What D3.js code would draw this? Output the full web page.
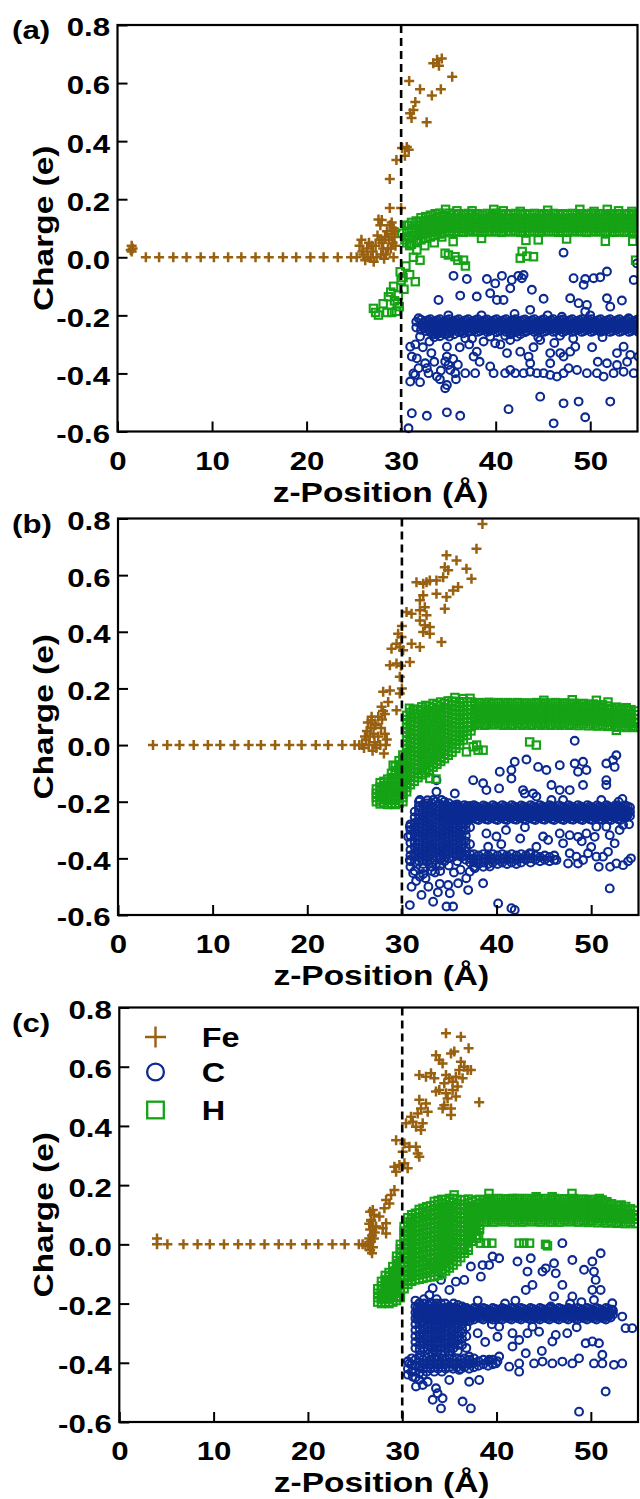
<!DOCTYPE html>
<html><head><meta charset="utf-8">
<script src="https://cdn.jsdelivr.net/npm/d3@7/dist/d3.min.js"></script>
<style>html,body{margin:0;padding:0;background:#fff}svg{display:block}</style>
</head><body>
<svg id="fig" width="640" height="1499"></svg>
<script>
// ---------- labels / ticks ----------
const xTicks=[0,10,20,30,40,50];
const xTickLabels=["0","10","20","30","40","50"];
const yTicks=[-0.6,-0.4,-0.2,0,0.2,0.4,0.6,0.8];
const yTickLabels=["-0.6","-0.4","-0.2","0.0","0.2","0.4","0.6","0.8"];
const panelNames=["(a)","(b)","(c)"];
const seriesNames=["Fe","C","H"];
const xTitle="z-Position (Å)";
const yTitle="Charge (e)";
const interfaceZ=30;

// ---------- panel (a) ----------
const feA=[[1.4,.025],[1.5,.04],[1.6,.03],[1.5,.02],[3.0,0],[4.4,0],[5.9,0],[7.3,0],[8.8,0],[10.2,0],[11.7,0],[13.1,0],[14.6,0],[16.0,0],[17.5,0],[18.9,0],[20.4,0],[21.8,0],[23.3,0],[24.7,0],[25.3,0],[25.6,.04],[25.8,.06],[25.9,.02],[26.0,.01],[26.2,-.01],[26.4,.03],[26.5,0],[26.6,.05],[26.8,0],[26.9,.04],[27.0,.02],[27.1,-.015],[27.3,.04],[27.4,0],[27.5,.075],[27.6,.13],[27.7,.06],[27.8,.11],[27.9,.01],[27.95,.128],[28.0,.05],[28.1,.03],[28.2,-.005],[28.3,.07],[28.4,.01],[28.5,.09],[28.6,.03],[28.7,.06],[28.8,.11],[28.9,.03],[29.0,.08],[29.0,.12],[29.1,.05],[29.2,.1],[29.2,0],[29.3,.07],[29.4,.04],[29.4,.09],[28.8,.17],[30.0,.17],[28.8,.27],[29.5,.335],[30.1,.376],[30.4,.35],[30.6,.38],[30.8,.37],[30.85,.607],[30.95,.496],[31.1,.48],[31.3,.507],[31.5,.535],[32.0,.579],[32.7,.465],[33.25,.557],[34.2,.579],[35.4,.622],[33.4,.668],[33.8,.68],[34.0,.66],[34.3,.685]];
const hA=[[27.07,-.176],[27.3,-.19],[27.6,-.199],[28.1,-.16],[28.5,-.19],[28.66,-.136],[29.0,-.19],[29.3,-.15],[29.5,-.186],[29.2,-.1],[29.7,-.13],[29.9,-.05],[30.0,-.08],[30.2,-.07],[30.9,-.06],[31.5,-.084],[30.5,-.03],[29.6,-.16],[28.9,-.12],[30.3,-.11],[29.8,-.17],[30.07,.083],[30.4,.06],[30.8,.11],[30.9,.04],[31.66,.025],[32.0,-.01],[31.3,0],[34.3,.07],[35.5,.054],[34.65,.014],[35.0,.008],[35.7,.002],[36.0,-.01],[36.6,-.01],[36.8,-.03],[42.6,-.003],[42.8,.02],[43.3,.004],[44.0,.002],[54.8,-.01],[34.7,.165],[35.9,.16],[37.5,.16],[39.8,.165],[40.8,.16],[42.6,.158],[45.5,.162],[48.9,.165],[50.4,.158],[51.8,.165],[53.0,.16],[54.4,.158],[44.5,.06],[51.6,.055],[54.5,.055],[43.2,.058],[38.5,.065],[47.5,.063],[33.5,.05],[32.5,.04]];
const hBandA=[[30.6,.05,.07,.09,.11],[31.1,.045,.065,.085,.1,.12],[31.6,.055,.075,.09,.11,.125],[32.1,.06,.078,.093,.108,.122,.136],[32.6,.066,.082,.097,.112,.127,.14],[33.1,.07,.086,.1,.116,.13,.145],[33.6,.075,.09,.105,.12,.135,.15],[34.1,.08,.095,.11,.125,.14,.152],[34.6,.085,.1,.115,.13,.145],[35.1,.09,.106,.121,.136,.152],[35.6,.086,.1,.116,.131,.146],[36.1,.09,.105,.12,.135,.15],[36.6,.086,.1,.115,.13,.146],[37.1,.092,.106,.121,.137,.151],[37.6,.087,.101,.116,.132,.147],[38.1,.091,.105,.12,.136,.15],[38.6,.086,.1,.115,.13,.145],[39.1,.09,.105,.12,.135,.151],[39.6,.087,.101,.116,.131,.147],[40.1,.091,.106,.121,.136,.152],[40.6,.086,.1,.115,.13,.146],[41.1,.09,.105,.12,.135,.15],[41.6,.087,.102,.117,.132,.147],[42.1,.091,.106,.12,.136,.151],[42.6,.086,.1,.115,.13,.146],[43.1,.09,.105,.12,.135,.15],[43.6,.087,.101,.116,.131,.147],[44.1,.09,.106,.121,.136,.151],[44.6,.086,.1,.115,.13,.145],[45.1,.091,.105,.12,.135,.15],[45.6,.087,.101,.116,.131,.146],[46.1,.09,.105,.12,.136,.151],[46.6,.086,.1,.115,.13,.146],[47.1,.09,.105,.12,.135,.15],[47.6,.086,.101,.116,.131,.147],[48.1,.091,.106,.121,.136,.151],[48.6,.087,.1,.115,.13,.146],[49.1,.09,.105,.12,.135,.15],[49.6,.086,.101,.116,.131,.146],[50.1,.09,.106,.121,.136,.151],[50.6,.087,.1,.115,.13,.145],[51.1,.091,.105,.12,.135,.15],[51.6,.086,.101,.116,.131,.146],[52.1,.09,.105,.12,.136,.15],[52.6,.086,.1,.115,.13,.145],[53.1,.09,.105,.12,.135,.15],[53.6,.086,.101,.116,.131,.146],[54.1,.09,.105,.12,.135,.15],[54.6,.086,.1,.115,.13,.145],[55.1,.09,.105,.12,.135,.15]];
const cA=[[47.18,.016],[35.54,-.064],[36.95,-.075],[39.07,-.075],[40.66,-.064],[39.95,-.09],[41.7,-.078],[42.4,-.064],[42.95,-.061],[42.77,-.072],[41.54,-.107],[43.83,-.112],[48.24,-.072],[49.47,-.075],[49.3,-.095],[50.36,-.072],[51.06,-.069],[51.77,-.049],[54.94,-.021],[54.6,-.078],[33.95,-.147],[36.25,-.132],[38.0,-.135],[39.42,-.124],[40.13,-.147],[40.83,-.147],[45.07,-.143],[47.88,-.141],[48.77,-.158],[49.65,-.164],[51.77,-.141],[53.35,-.149],[43.65,-.181],[49.47,-.187],[52.12,-.17],[54.06,-.21],[31.84,-.21],[35,-.2],[38.5,-.2],[45.5,-.2],[50.0,-.2],[42.0,-.195],[47.0,-.205],[33.5,-.275],[37.5,-.28],[44.5,-.275],[48.2,-.28],[51.3,-.275],[46.8,-.27],[41.0,-.27],[30.96,-.308],[32.0,-.273],[31.13,-.342],[31.66,-.348],[32.54,-.365],[32.72,-.382],[32.9,-.399],[30.96,-.428],[31.48,-.405],[31.84,-.382],[33.78,-.411],[34.66,-.359],[34.84,-.342],[35.0,-.371],[35.2,-.388],[35.72,-.399],[34.84,-.308],[34.66,-.451],[34.84,-.44],[36.78,-.279],[36.78,-.399],[37.83,-.399],[37.66,-.342],[38.0,-.325],[38.72,-.29],[39.42,-.376],[39.78,-.399],[39.95,-.296],[41.0,-.399],[41.54,-.388],[42.07,-.399],[42.95,-.399],[43.65,-.394],[44.36,-.399],[45.07,-.399],[45.77,-.405],[46.48,-.411],[47.18,-.399],[47.71,-.382],[48.6,-.388],[49.65,-.399],[50.71,-.399],[51.41,-.411],[52.47,-.399],[53.53,-.394],[54.6,-.399],[55.1,-.342],[42.6,-.325],[43.48,-.342],[43.65,-.365],[44.71,-.285],[45.77,-.33],[46.83,-.33],[47.88,-.325],[48.42,-.308],[47.18,-.342],[45.77,-.365],[51.77,-.365],[52.83,-.33],[53.53,-.308],[54.24,-.336],[41.54,-.285],[39.42,-.273],[42.25,-.273],[52.83,-.371],[31.5,-.3],[32.3,-.31],[33.2,-.33],[33.5,-.36],[34.2,-.39],[35.5,-.35],[36.2,-.31],[36.0,-.37],[35.8,-.42],[34.1,-.42],[33.0,-.29],[37.2,-.3],[38.3,-.36],[40.5,-.3],[41.2,-.33],[44.0,-.31],[46.2,-.295],[50.2,-.31],[50.8,-.36],[53.9,-.36],[31.3,-.4],[32.0,-.43],[44.71,-.48],[41.36,-.523],[31.13,-.537],[32.72,-.546],[34.84,-.534],[36.25,-.546],[47.18,-.503],[48.77,-.497],[52.12,-.497],[46.13,-.572],[49.47,-.551],[30.78,-.589]];
const cBandA=[[31.6,-.222,-.242],[32.1,-.215,-.232,-.25],[32.6,-.219,-.236,-.254],[33.1,-.213,-.228,-.243,-.258],[33.6,-.22,-.235,-.25,-.265],[34.1,-.213,-.228,-.243,-.258,-.272],[34.6,-.22,-.235,-.25,-.265],[35.1,-.213,-.228,-.243,-.258,-.273],[35.6,-.22,-.235,-.25,-.265],[36.1,-.213,-.228,-.243,-.258],[36.6,-.22,-.235,-.25,-.262],[37.1,-.213,-.228,-.243,-.257],[37.6,-.22,-.235,-.25],[38.1,-.213,-.228,-.243,-.257],[38.6,-.22,-.235,-.25],[39.1,-.214,-.228,-.243,-.257],[39.6,-.221,-.235,-.25],[40.1,-.213,-.228,-.243,-.258],[40.6,-.22,-.236,-.251],[41.1,-.213,-.228,-.243,-.257],[41.6,-.22,-.235,-.25,-.265],[42.1,-.213,-.228,-.243,-.258],[42.6,-.22,-.235,-.25,-.265],[43.1,-.214,-.229,-.244,-.258],[43.6,-.22,-.235,-.25],[44.1,-.213,-.228,-.243,-.257],[44.6,-.22,-.235,-.25],[45.1,-.213,-.228,-.243,-.257],[45.6,-.221,-.235,-.25],[46.1,-.213,-.228,-.243,-.257],[46.6,-.22,-.235,-.25],[47.1,-.214,-.228,-.243,-.258],[47.6,-.22,-.235,-.25],[48.1,-.213,-.228,-.243,-.257],[48.6,-.22,-.235,-.25],[49.1,-.213,-.228,-.243,-.257],[49.6,-.22,-.235,-.25],[50.1,-.213,-.228,-.243,-.257],[50.6,-.221,-.236,-.25],[51.1,-.213,-.228,-.243,-.257],[51.6,-.22,-.235,-.25],[52.1,-.213,-.228,-.243,-.257],[52.6,-.22,-.235,-.25],[53.1,-.213,-.228,-.243,-.257],[53.6,-.22,-.235,-.25],[54.1,-.213,-.228,-.243,-.257],[54.6,-.22,-.235,-.25],[55.1,-.213,-.228,-.243,-.257]];
const cBandA2=[[32.35,-.224,-.242],[32.85,-.217,-.232,-.248],[33.35,-.224,-.24,-.256],[33.85,-.217,-.232,-.248,-.264],[34.35,-.224,-.24,-.256],[34.85,-.217,-.232,-.248,-.264],[35.35,-.224,-.24,-.256],[35.85,-.217,-.232,-.248],[36.35,-.224,-.24,-.255],[36.85,-.217,-.232,-.248],[37.35,-.224,-.24,-.254],[37.85,-.217,-.232,-.248],[38.35,-.224,-.24,-.254],[38.85,-.217,-.232,-.248],[39.35,-.224,-.24,-.254],[39.85,-.217,-.232,-.248],[40.35,-.224,-.24,-.254],[40.85,-.217,-.232,-.248],[41.35,-.224,-.24,-.256],[41.85,-.217,-.232,-.248],[42.35,-.224,-.24,-.256],[42.85,-.217,-.232,-.248],[43.35,-.224,-.24,-.254],[43.85,-.217,-.232,-.248],[44.35,-.224,-.24,-.254],[44.85,-.217,-.232,-.248],[45.35,-.224,-.24,-.254],[45.85,-.217,-.232,-.248],[46.35,-.224,-.24,-.254],[46.85,-.217,-.232,-.248],[47.35,-.224,-.24,-.254],[47.85,-.217,-.232,-.248],[48.35,-.224,-.24,-.254],[48.85,-.217,-.232,-.248],[49.35,-.224,-.24,-.254],[49.85,-.217,-.232,-.248],[50.35,-.224,-.24,-.254],[50.85,-.217,-.232,-.248],[51.35,-.224,-.24,-.254],[51.85,-.217,-.232,-.248],[52.35,-.224,-.24,-.254],[52.85,-.217,-.232,-.248],[53.35,-.224,-.24,-.254],[53.85,-.217,-.232,-.248],[54.35,-.224,-.24,-.254],[54.85,-.217,-.232,-.248]];

// ---------- panel (b) ----------
const feB=[[3.7,0],[5.2,0],[6.5,0],[8.0,0],[9.5,0],[10.8,0],[12.3,0],[13.8,0],[15.1,0],[16.6,0],[18.1,0],[19.4,0],[20.9,0],[22.2,0],[23.7,0],[25.0,0],[25.5,0],[25.8,0],[26.0,-.01],[26.1,.03],[26.2,.02],[26.3,.05],[26.4,.08],[26.5,0],[26.6,.03],[26.7,.06],[26.8,.1],[26.79,.088],[26.9,-.02],[27.0,.04],[27.1,.01],[27.14,.076],[27.2,.07],[27.3,-.01],[27.5,.03],[27.5,.1],[27.7,0],[27.8,.06],[27.9,.09],[28.0,.12],[28.1,-.03],[28.2,.04],[28.2,.11],[28.3,0],[28.4,.02],[38.51,.781],[37.88,.693],[34.71,.67],[35.77,.652],[36.82,.623],[37.35,.587],[34.53,.628],[34.89,.617],[34.36,.593],[33.65,.581],[32.95,.581],[32.6,.575],[31.54,.575],[32.25,.57],[35.94,.558],[35.41,.546],[34.71,.523],[33.65,.534],[34.53,.481],[32.25,.529],[31.9,.511],[32.42,.487],[31.9,.476],[30.49,.47],[31.02,.464],[32.6,.458],[31.9,.44],[32.42,.423],[32.95,.417],[32.25,.399],[32.95,.393],[34.18,.364],[31.02,.358],[31.9,.346],[29.96,.382],[30.13,.335],[29.43,.358],[28.9,.34],[30.84,.293],[28.73,.282],[29.43,.288],[29.78,.241],[28.02,.188],[28.73,.193],[29.78,.182],[28.55,.152],[27.85,.135],[29.43,.123],[29.78,.346],[29.6,.393],[30.0,.42],[30.0,.2],[29.9,.28]];
const hB=[[43.5,.011],[44.2,0],[38.05,-.018],[38.58,-.018],[36.82,-.024],[37.53,-.006],[37.9,0],[29.08,-.071],[32.95,-.118],[33.6,-.12],[52.66,.052],[54.4,.064],[31.19,.123],[50.55,.158],[51.78,.152],[36.47,.164],[35.6,.168],[37.2,.165],[31.0,.1],[30.8,.13],[48.0,.16],[45.0,.158]];
const hBandB=[[27.3,-.2,-.185,-.17,-.155],[27.7,-.208,-.193,-.178,-.163,-.148,-.133],[28.1,-.203,-.188,-.173,-.158,-.143,-.128],[28.5,-.21,-.195,-.18,-.165,-.15,-.135,-.12],[28.9,-.205,-.19,-.175,-.16,-.145,-.13,-.115,-.1],[29.3,-.21,-.195,-.18,-.165,-.15,-.135,-.12,-.105,-.09,-.075],[29.7,-.205,-.19,-.175,-.16,-.145,-.13,-.115,-.1,-.085,-.07,-.055],[30.1,-.2,-.185,-.17,-.155,-.14,-.125,-.11,-.095,-.08,-.065,-.05,-.035],[30.5,-.165,-.15,-.135,-.12,-.105,-.09,-.075,-.06,-.045,-.03,-.015,0,.015,.03,.045,.06,.075,.09,.105],[30.9,-.14,-.125,-.11,-.095,-.08,-.065,-.05,-.035,-.02,-.005,.01,.025,.04,.055,.07,.085,.1,.115],[31.3,-.128,-.113,-.098,-.083,-.068,-.053,-.038,-.023,-.008,.007,.022,.037,.052,.067,.082,.097,.112,.127],[31.7,-.115,-.1,-.085,-.07,-.055,-.04,-.025,-.01,.005,.02,.035,.05,.065,.08,.095,.11,.125],[32.1,-.105,-.09,-.075,-.06,-.045,-.03,-.015,0,.015,.03,.045,.06,.075,.09,.105,.12,.135],[32.5,-.098,-.083,-.068,-.053,-.038,-.023,-.008,.007,.022,.037,.052,.067,.082,.097,.112,.127,.14],[32.9,-.088,-.073,-.058,-.043,-.028,-.013,.002,.017,.032,.047,.062,.077,.092,.107,.122,.137],[33.3,-.078,-.063,-.048,-.033,-.018,-.003,.012,.027,.042,.057,.072,.087,.102,.117,.132,.147],[33.7,-.068,-.053,-.038,-.023,-.008,.007,.022,.037,.052,.067,.082,.097,.112,.127,.142],[34.1,-.058,-.043,-.028,-.013,.002,.017,.032,.047,.062,.077,.092,.107,.122,.137,.152],[34.5,-.048,-.033,-.018,-.003,.012,.027,.042,.057,.072,.087,.102,.117,.132,.147],[34.9,-.036,-.021,-.006,.009,.024,.039,.054,.069,.084,.099,.114,.129,.144,.156],[35.3,-.025,-.01,.005,.02,.035,.05,.065,.08,.095,.11,.125,.14,.155],[35.7,-.012,.003,.018,.033,.048,.063,.078,.093,.108,.123,.138,.153],[36.1,0,.015,.03,.045,.06,.075,.09,.105,.12,.135,.15],[36.5,.018,.033,.048,.063,.078,.093,.108,.123,.138,.153],[36.9,.035,.05,.065,.08,.095,.11,.125,.14,.152],[37.3,.05,.065,.08,.095,.11,.125,.14,.152],[37.7,.07,.085,.1,.115,.13,.145],[38.2,.077,.092,.107,.122,.137,.15],[38.7,.07,.085,.1,.115,.13,.145],[39.2,.077,.092,.107,.122,.137,.151],[39.7,.071,.085,.1,.115,.13,.146],[40.2,.077,.092,.107,.122,.137,.15],[40.7,.07,.085,.1,.115,.13,.145],[41.2,.076,.092,.107,.122,.137,.15],[41.7,.07,.085,.1,.115,.13,.145],[42.2,.077,.092,.107,.122,.137,.15],[42.7,.07,.086,.1,.115,.13,.145],[43.2,.077,.092,.107,.122,.137,.149],[43.7,.07,.085,.1,.115,.13,.145],[44.2,.077,.092,.107,.122,.137,.15],[44.7,.07,.085,.1,.115,.13,.145],[45.2,.077,.092,.107,.122,.137,.149],[45.7,.07,.085,.1,.115,.13,.145],[46.2,.077,.092,.107,.122,.137,.15],[46.7,.07,.085,.1,.115,.13,.145],[47.2,.077,.092,.107,.122,.137,.149],[47.7,.07,.085,.1,.115,.13,.145],[48.2,.076,.091,.106,.121,.136,.148],[48.7,.069,.084,.099,.114,.129,.144],[49.2,.075,.09,.105,.12,.135,.147],[49.7,.068,.083,.098,.113,.128,.142],[50.2,.074,.089,.104,.119,.134,.145],[50.7,.067,.082,.097,.112,.127,.14],[51.2,.072,.087,.102,.117,.132,.142],[51.7,.066,.081,.096,.111,.126,.138],[52.2,.07,.085,.1,.115,.13],[52.7,.063,.078,.093,.108,.123,.134],[53.2,.068,.083,.098,.113,.128],[53.7,.062,.077,.092,.107,.122,.132],[54.2,.067,.082,.097,.112,.125],[54.7,.062,.077,.092,.107,.12]];
const cB=[[48.26,.015],[41.92,-.059],[43.16,-.051],[40.34,-.094],[41.57,-.088],[41.57,-.118],[37.53,-.124],[38.58,-.135],[38.93,-.159],[40.27,-.153],[35.59,-.171],[33.65,-.124],[33.65,-.165],[34.18,-.194],[33.3,-.194],[31.9,-.194],[32.6,-.206],[44.39,-.077],[45.27,-.088],[46.68,-.071],[48.26,-.065],[49.14,-.059],[48.61,-.094],[49.5,-.088],[51.6,-.065],[52.31,-.053],[52.66,-.036],[52.48,-.077],[42.98,-.171],[43.86,-.171],[44.21,-.182],[45.8,-.141],[46.68,-.159],[45.8,-.194],[47.73,-.159],[49.14,-.141],[51.6,-.124],[51.6,-.141],[51.07,-.194],[47.03,-.194],[42.8,-.159],[30.84,-.288],[30.66,-.324],[30.84,-.406],[31.19,-.453],[31.02,-.5],[30.84,-.565],[31.9,-.465],[32.07,-.529],[33.3,-.553],[34.89,-.494],[35.06,-.523],[34.71,-.57],[35.41,-.57],[35.94,-.488],[37.0,-.512],[38.58,-.488],[40.17,-.559],[41.57,-.576],[41.92,-.582],[37.17,-.447],[37.7,-.435],[38.93,-.312],[39.11,-.359],[39.99,-.323],[39.29,-.429],[47.03,-.347],[47.73,-.318],[48.61,-.324],[49.5,-.312],[50.37,-.324],[50.55,-.288],[51.6,-.288],[51.96,-.318],[47.73,-.382],[48.44,-.394],[49.14,-.406],[48.61,-.418],[49.67,-.382],[50.55,-.394],[51.25,-.394],[51.78,-.377],[52.66,-.418],[53.37,-.424],[51.96,-.506],[52.48,-.347],[53.37,-.282],[46.68,-.312],[45.45,-.335],[44.92,-.323],[44.21,-.359],[43.51,-.382],[46.33,-.406],[47.56,-.418],[32.5,-.47],[33.5,-.45],[34.0,-.49],[32.8,-.5],[35.5,-.45],[36.2,-.44],[36.8,-.47],[33.8,-.52],[31.5,-.48],[41.0,-.3],[42.5,-.33],[43.0,-.29],[40.5,-.35],[53.7,-.25],[54.0,-.28],[53.0,-.3],[50.0,-.36],[49.0,-.34],[52.0,-.43],[50.8,-.43],[54.2,-.4],[53.9,-.41],[52.9,-.2],[53.3,-.19]];
const cBandB=[[34.6,-.212,-.227,-.242,-.257],[35.1,-.22,-.235,-.25,-.265],[35.6,-.212,-.227,-.242,-.257],[36.1,-.22,-.235,-.25,-.265],[36.6,-.212,-.227,-.242,-.257],[37.1,-.22,-.235,-.25,-.265],[37.6,-.212,-.227,-.242,-.257],[38.1,-.22,-.235,-.25,-.265],[38.6,-.213,-.227,-.242,-.257],[39.1,-.22,-.235,-.25,-.264],[39.6,-.212,-.227,-.242,-.257],[40.1,-.22,-.235,-.25,-.265],[40.6,-.212,-.228,-.243,-.257],[41.1,-.22,-.235,-.25,-.265],[41.6,-.212,-.227,-.242,-.257],[42.1,-.22,-.235,-.25,-.264],[42.6,-.213,-.227,-.242,-.257],[43.1,-.22,-.235,-.25,-.265],[43.6,-.212,-.227,-.242,-.257],[44.1,-.22,-.235,-.25,-.265],[44.6,-.212,-.227,-.242,-.256],[45.1,-.22,-.235,-.25,-.264],[45.6,-.212,-.227,-.242,-.257],[46.1,-.22,-.235,-.25,-.265],[46.6,-.213,-.228,-.242,-.257],[47.1,-.22,-.235,-.25,-.265],[47.6,-.212,-.227,-.242,-.257],[48.1,-.22,-.235,-.25,-.264],[48.6,-.212,-.227,-.242,-.257],[49.1,-.22,-.235,-.25,-.265],[49.6,-.212,-.227,-.242,-.257],[50.1,-.22,-.235,-.25,-.265],[50.6,-.213,-.227,-.242,-.257],[51.1,-.22,-.235,-.25,-.264],[51.6,-.212,-.227,-.242,-.257],[52.1,-.22,-.235,-.25,-.265],[52.6,-.212,-.227,-.242,-.257],[53.1,-.22,-.235,-.25,-.265],[53.6,-.213,-.228,-.243,-.257],[54.1,-.22,-.235,-.25]];
const cBandB2=[[34.85,-.217,-.232,-.248,-.262],[35.35,-.224,-.24,-.256],[35.85,-.217,-.232,-.248,-.262],[36.35,-.224,-.24,-.256],[36.85,-.217,-.232,-.248,-.262],[37.35,-.224,-.24,-.256],[37.85,-.217,-.232,-.248,-.262],[38.35,-.224,-.24,-.256],[38.85,-.217,-.232,-.248,-.262],[39.35,-.224,-.24,-.256],[39.85,-.217,-.232,-.248,-.262],[40.35,-.224,-.24,-.256],[40.85,-.217,-.232,-.248,-.262],[41.35,-.224,-.24,-.256],[41.85,-.217,-.232,-.248,-.262],[42.35,-.224,-.24,-.256],[42.85,-.217,-.232,-.248,-.262],[43.35,-.224,-.24,-.256],[43.85,-.217,-.232,-.248,-.262],[44.35,-.224,-.24,-.256],[44.85,-.217,-.232,-.248,-.262],[45.35,-.224,-.24,-.256],[45.85,-.217,-.232,-.248,-.262],[46.35,-.224,-.24,-.256],[46.85,-.217,-.232,-.248,-.262],[47.35,-.224,-.24,-.256],[47.85,-.217,-.232,-.248,-.262],[48.35,-.224,-.24,-.256],[48.85,-.217,-.232,-.248,-.262],[49.35,-.224,-.24,-.256],[49.85,-.217,-.232,-.248,-.262],[50.35,-.224,-.24,-.256],[50.85,-.217,-.232,-.248,-.262],[51.35,-.224,-.24,-.256],[51.85,-.217,-.232,-.248,-.262],[52.35,-.224,-.24,-.256],[52.85,-.217,-.232,-.248,-.262],[53.35,-.224,-.24,-.256],[53.85,-.217,-.232,-.248]];
const cMassB=[[30.9,-.28,-.3,-.32,-.345,-.37,-.39,-.41,-.43],[31.35,-.235,-.255,-.275,-.29,-.31,-.325,-.345,-.36,-.38,-.395,-.415,-.445],[31.8,-.2,-.215,-.23,-.245,-.26,-.275,-.29,-.305,-.32,-.335,-.35,-.365,-.38,-.395,-.41],[32.25,-.21,-.225,-.24,-.255,-.27,-.285,-.3,-.315,-.33,-.345,-.36,-.375,-.39,-.405,-.42,-.435,-.455],[32.7,-.195,-.215,-.23,-.245,-.26,-.275,-.29,-.305,-.32,-.335,-.35,-.365,-.38,-.395,-.41],[33.15,-.205,-.22,-.235,-.25,-.265,-.28,-.295,-.31,-.325,-.34,-.355,-.37,-.385,-.4,-.415,-.43,-.445],[33.6,-.2,-.215,-.23,-.245,-.26,-.275,-.29,-.305,-.32,-.335,-.35,-.365,-.38,-.395,-.42],[34.05,-.21,-.225,-.24,-.255,-.27,-.285,-.3,-.315,-.33,-.345,-.36,-.375,-.39,-.405,-.425,-.445],[34.5,-.2,-.215,-.23,-.245,-.26,-.275,-.29,-.305,-.32,-.335,-.35,-.365,-.38,-.395,-.41],[34.95,-.205,-.22,-.235,-.25,-.265,-.28,-.295,-.31,-.325,-.34,-.355,-.37,-.385,-.4,-.425],[35.4,-.215,-.23,-.245,-.26,-.275,-.29,-.305,-.32,-.335,-.35,-.365,-.38,-.395],[35.85,-.21,-.225,-.24,-.255,-.27,-.285,-.3,-.315,-.33,-.345,-.36,-.375,-.39,-.41],[36.3,-.23,-.245,-.26,-.275,-.29,-.305,-.32,-.335,-.35,-.365,-.38,-.395],[36.75,-.22,-.235,-.25,-.265,-.28,-.3,-.32,-.34,-.36,-.375,-.39,-.405],[37.2,-.215,-.23,-.245,-.26,-.29,-.35,-.385,-.4,-.415]];
const cLowB=[[37.6,-.385,-.4,-.415,-.43],[38.1,-.39,-.405,-.42],[38.6,-.385,-.4,-.415,-.43],[39.1,-.39,-.405,-.42],[39.6,-.385,-.4,-.415],[40.1,-.39,-.405,-.42],[40.6,-.385,-.4,-.415],[41.1,-.39,-.405,-.42],[41.6,-.385,-.4,-.415],[42.1,-.39,-.405,-.42],[42.6,-.385,-.4,-.415],[43.1,-.39,-.405],[43.6,-.385,-.4,-.415],[44.1,-.39,-.405],[44.6,-.395,-.41],[45.1,-.39,-.405],[45.6,-.395,-.41],[46.1,-.39,-.405]];

// ---------- panel (c) ----------
const feC=[[4.0,.02],[4.0,0],[5.1,0],[6.8,0],[8.3,0],[9.6,0],[11.1,0],[12.6,0],[13.9,0],[15.4,0],[16.9,0],[18.2,0],[19.8,0],[21.1,0],[22.6,0],[23.9,0],[25.4,0],[25.8,0],[26.1,-.005],[26.4,0],[26.5,.02],[26.5,.07],[26.6,-.02],[26.6,.05],[26.6,.11],[26.7,.01],[26.7,.08],[26.8,-.03],[26.8,.03],[26.9,.06],[26.9,-.01],[27.0,.1],[27.0,.02],[27.1,.04],[34.64,.713],[36.22,.701],[37.04,.662],[33.58,.639],[33.93,.623],[34.28,.611],[35.17,.645],[35.52,.651],[36.22,.617],[36.58,.6],[36.05,.589],[36.93,.589],[37.28,.589],[31.81,.572],[32.52,.566],[33.05,.578],[33.4,.561],[34.64,.572],[34.99,.561],[35.34,.549],[35.69,.566],[36.4,.561],[35.87,.533],[34.46,.544],[33.93,.521],[33.58,.516],[34.64,.51],[35.34,.521],[34.81,.493],[35.69,.499],[34.46,.47],[35.17,.459],[35.17,.437],[34.28,.459],[38.16,.48],[31.81,.488],[32.52,.476],[31.99,.459],[32.7,.448],[31.64,.442],[30.93,.431],[31.11,.414],[30.4,.409],[32.17,.409],[31.46,.397],[31.99,.386],[29.35,.352],[30.23,.341],[30.76,.33],[31.46,.33],[30.05,.313],[31.64,.307],[31.81,.296],[29.17,.262],[29.7,.268],[30.23,.274],[30.58,.257],[29.35,.245],[29.17,.184],[28.82,.167],[28.29,.15],[28.64,.138],[28.11,.122],[26.88,.116],[27.58,.094],[26.7,.082],[28.29,.071],[27.23,.06],[27.93,.054],[28.29,.037]];
const hC=[[38.3,.004],[38.9,.004],[39.5,.004],[42.4,.004],[42.9,.004],[43.5,.004],[45.2,0],[45.4,-.005],[35.5,.167],[39.2,.172],[48.0,.172],[50.9,.155],[45.9,.161],[44.2,.161],[41.7,.155],[30.9,.077],[32.5,.105],[33.2,-.064],[33.6,-.075],[28.6,-.12],[37.9,.02],[38.1,.03],[37.0,-.02]];
const hBandC=[[27.4,-.195,-.18,-.165,-.15],[27.8,-.2,-.185,-.17,-.155,-.14,-.125],[28.2,-.195,-.18,-.165,-.15,-.135,-.12,-.105],[28.6,-.2,-.185,-.17,-.155,-.14,-.125,-.11,-.095],[29.0,-.195,-.18,-.165,-.15,-.135,-.12,-.105,-.09,-.075],[29.4,-.19,-.175,-.16,-.145,-.13,-.115,-.1,-.085,-.07,-.055,-.04],[29.8,-.18,-.165,-.15,-.135,-.12,-.105,-.09,-.075,-.06,-.045,-.03,-.015,0],[30.2,-.15,-.135,-.12,-.105,-.09,-.075,-.06,-.045,-.03,-.015,0,.015,.03,.045,.06],[30.6,-.135,-.12,-.105,-.09,-.075,-.06,-.045,-.03,-.015,0,.015,.03,.045,.06,.075,.09],[31.0,-.125,-.11,-.095,-.08,-.065,-.05,-.035,-.02,-.005,.01,.025,.04,.055,.07,.085,.1],[31.4,-.12,-.105,-.09,-.075,-.06,-.045,-.03,-.015,0,.015,.03,.045,.06,.075,.09,.105],[31.8,-.118,-.103,-.088,-.073,-.058,-.043,-.028,-.013,.002,.017,.032,.047,.062,.077,.092,.107,.118],[32.2,-.115,-.1,-.085,-.07,-.055,-.04,-.025,-.01,.005,.02,.035,.05,.065,.08,.095,.11,.122],[32.6,-.112,-.097,-.082,-.067,-.052,-.037,-.022,-.007,.008,.023,.038,.053,.068,.083,.098,.113,.127],[33.0,-.11,-.095,-.08,-.065,-.05,-.035,-.02,-.005,.01,.025,.04,.055,.07,.085,.1,.115,.13],[33.4,-.108,-.093,-.078,-.063,-.048,-.033,-.018,-.003,.012,.027,.042,.057,.072,.087,.102,.117,.132,.145],[33.8,-.105,-.09,-.075,-.06,-.045,-.03,-.015,0,.015,.03,.045,.06,.075,.09,.105,.12,.135,.148],[34.2,-.1,-.085,-.07,-.055,-.04,-.025,-.01,.005,.02,.035,.05,.065,.08,.095,.11,.125,.14,.152],[34.6,-.09,-.075,-.06,-.045,-.03,-.015,0,.015,.03,.045,.06,.075,.09,.105,.12,.135,.15],[35.0,-.08,-.065,-.05,-.035,-.02,-.005,.01,.025,.04,.055,.07,.085,.1,.115,.13,.145,.155],[35.4,-.07,-.055,-.04,-.025,-.01,.005,.02,.035,.05,.065,.08,.095,.11,.125,.14,.155],[35.8,-.058,-.043,-.028,-.013,.002,.017,.032,.047,.062,.077,.092,.107,.122,.137,.152],[36.2,-.045,-.03,-.015,0,.015,.03,.045,.06,.075,.09,.105,.12,.135,.15],[36.6,-.03,-.015,0,.015,.03,.045,.06,.075,.09,.105,.12,.135,.15],[37.0,-.01,.005,.02,.035,.05,.065,.08,.095,.11,.125,.14,.153],[37.4,.01,.025,.04,.055,.07,.085,.1,.115,.13,.145],[37.8,.03,.045,.06,.075,.09,.105,.12,.135,.15],[38.2,.05,.065,.08,.095,.11,.125,.14,.152],[38.7,.075,.09,.105,.12,.135,.15],[39.2,.082,.097,.112,.127,.142,.155],[39.7,.075,.09,.105,.12,.135,.15],[40.2,.082,.097,.112,.127,.142,.155],[40.7,.076,.09,.105,.12,.135,.15],[41.2,.082,.097,.112,.127,.142,.154],[41.7,.075,.09,.105,.12,.135,.15],[42.2,.082,.097,.112,.127,.142,.155],[42.7,.075,.09,.105,.12,.135,.15],[43.2,.082,.097,.112,.127,.142,.155],[43.7,.076,.091,.105,.12,.135,.15],[44.2,.082,.097,.112,.127,.142,.154],[44.7,.075,.09,.105,.12,.135,.15],[45.2,.082,.097,.112,.127,.142,.155],[45.7,.075,.09,.105,.12,.135,.15],[46.2,.082,.097,.112,.127,.142,.155],[46.7,.075,.09,.105,.12,.135,.15],[47.2,.082,.097,.112,.127,.142,.154],[47.7,.076,.09,.105,.12,.135,.15],[48.2,.082,.097,.112,.127,.142,.155],[48.7,.075,.09,.105,.12,.135,.15],[49.2,.081,.096,.111,.126,.141,.153],[49.7,.074,.089,.104,.119,.134,.148],[50.2,.08,.095,.11,.125,.14,.152],[50.7,.073,.088,.103,.118,.133,.146],[51.2,.079,.094,.109,.124,.139,.15],[51.7,.072,.087,.102,.117,.132,.144],[52.2,.077,.092,.107,.122,.137],[52.7,.071,.086,.101,.116,.13],[53.2,.076,.091,.106,.121,.133],[53.7,.07,.085,.1,.115,.128],[54.2,.075,.09,.105,.12],[54.7,.07,.085,.1,.115]];
const cC=[[46.98,.004],[51.04,-.03],[50.16,-.058],[48.04,-.053],[49.28,-.086],[50.33,-.092],[50.51,-.12],[51.04,-.154],[50.16,-.154],[50.33,-.188],[46.1,-.064],[45.22,-.081],[44.87,-.092],[46.28,-.098],[43.63,-.047],[43.28,-.092],[42.22,-.058],[46.98,-.137],[48.04,-.176],[46.1,-.176],[43.1,-.154],[43.81,-.137],[39.58,-.041],[40.28,-.047],[39.22,-.07],[38.52,-.07],[37.28,-.075],[38.34,-.109],[36.58,-.12],[35.69,-.126],[34.11,-.12],[33.23,-.148],[35.0,-.154],[32.87,-.171],[31.81,-.199],[40.1,-.312],[40.28,-.278],[41.69,-.345],[42.4,-.323],[43.28,-.3],[43.81,-.278],[44.51,-.295],[45.92,-.328],[46.28,-.306],[43.1,-.368],[43.98,-.402],[44.87,-.396],[45.92,-.402],[46.98,-.396],[48.04,-.402],[48.75,-.385],[49.45,-.334],[50.16,-.328],[50.86,-.334],[51.22,-.373],[50.33,-.402],[51.22,-.402],[52.45,-.407],[53.33,-.402],[52.27,-.199],[52.27,-.221],[53.33,-.244],[53.68,-.283],[54.39,-.283],[51.57,-.497],[48.75,-.565],[41.34,-.413],[42.4,-.43],[42.4,-.402],[39.93,-.402],[39.22,-.39],[38.16,-.458],[37.1,-.464],[36.4,-.531],[37.28,-.554],[33.23,-.525],[33.75,-.503],[34.28,-.52],[34.11,-.554],[33.58,-.486],[32.17,-.475],[31.81,-.458],[31.11,-.447],[30.76,-.402],[31.11,-.43],[31.46,-.48],[32.7,-.464],[34.99,-.458],[36.05,-.424],[37.1,-.379],[40.28,-.379],[41.69,-.3],[45.75,-.21],[38.0,-.3],[38.8,-.33],[39.5,-.27],[44.8,-.36],[47.5,-.3],[48.5,-.28],[49.0,-.195],[47.8,-.2],[42.0,-.19],[40.9,-.2],[38.0,-.19]];
const cBandC=[[31.6,-.215,-.228,-.241,-.254],[32.1,-.221,-.234,-.247],[32.6,-.215,-.228,-.241,-.254],[33.1,-.221,-.234,-.247],[33.6,-.215,-.228,-.241,-.254],[34.1,-.221,-.234,-.247],[34.6,-.215,-.228,-.241,-.254],[35.1,-.221,-.234,-.247],[35.6,-.215,-.228,-.241,-.254],[36.1,-.221,-.234,-.247],[36.6,-.215,-.228,-.241,-.254],[37.1,-.221,-.234,-.247,-.26],[37.6,-.215,-.228,-.241,-.254],[38.1,-.221,-.234,-.247],[38.6,-.215,-.228,-.241,-.254],[39.1,-.221,-.234,-.247],[39.6,-.215,-.228,-.241,-.254],[40.1,-.221,-.234,-.247],[40.6,-.215,-.228,-.241,-.254],[41.1,-.221,-.234,-.247],[41.6,-.215,-.228,-.241,-.254],[42.1,-.221,-.234,-.247],[42.6,-.215,-.228,-.241,-.254],[43.1,-.221,-.234,-.247],[43.6,-.215,-.228,-.241,-.254],[44.1,-.221,-.234,-.247],[44.6,-.215,-.228,-.241,-.254],[45.1,-.221,-.234,-.247],[45.6,-.215,-.228,-.241,-.254],[46.1,-.221,-.234,-.247],[46.6,-.215,-.228,-.241,-.254],[47.1,-.221,-.234,-.247],[47.6,-.215,-.228,-.241,-.254],[48.1,-.221,-.234,-.247],[48.6,-.215,-.228,-.241,-.254],[49.1,-.221,-.234,-.247],[49.6,-.215,-.228,-.241,-.254],[50.1,-.221,-.234,-.247],[50.6,-.215,-.228,-.241,-.254],[51.1,-.221,-.234,-.247],[51.6,-.215,-.228,-.241,-.254],[52.1,-.221,-.234,-.247]];
const cBandC2=[[31.85,-.218,-.231,-.244],[32.35,-.224,-.237,-.25],[32.85,-.218,-.231,-.244],[33.35,-.224,-.237,-.25],[33.85,-.218,-.231,-.244],[34.35,-.224,-.237,-.25],[34.85,-.218,-.231,-.244],[35.35,-.224,-.237,-.25],[35.85,-.218,-.231,-.244],[36.35,-.224,-.237,-.25],[36.85,-.218,-.231,-.244],[37.35,-.224,-.237,-.25],[37.85,-.218,-.231,-.244],[38.35,-.224,-.237,-.25],[38.85,-.218,-.231,-.244],[39.35,-.224,-.237,-.25],[39.85,-.218,-.231,-.244],[40.35,-.224,-.237,-.25],[40.85,-.218,-.231,-.244],[41.35,-.224,-.237,-.25],[41.85,-.218,-.231,-.244],[42.35,-.224,-.237,-.25],[42.85,-.218,-.231,-.244],[43.35,-.224,-.237,-.25],[43.85,-.218,-.231,-.244],[44.35,-.224,-.237,-.25],[44.85,-.218,-.231,-.244],[45.35,-.224,-.237,-.25],[45.85,-.218,-.231,-.244],[46.35,-.224,-.237,-.25],[46.85,-.218,-.231,-.244],[47.35,-.224,-.237,-.25],[47.85,-.218,-.231,-.244],[48.35,-.224,-.237,-.25],[48.85,-.218,-.231,-.244],[49.35,-.224,-.237,-.25],[49.85,-.218,-.231,-.244],[50.35,-.224,-.237,-.25],[50.85,-.218,-.231,-.244],[51.35,-.224,-.237,-.25],[51.85,-.218,-.231,-.244],[52.35,-.224,-.237]];
const cMassC=[[31.4,-.19,-.21,-.23,-.25,-.27,-.29,-.31,-.33,-.35],[31.85,-.2,-.215,-.235,-.25,-.27,-.285,-.305,-.32,-.34,-.355,-.375],[32.3,-.185,-.2,-.215,-.23,-.245,-.26,-.275,-.29,-.305,-.32,-.335,-.35],[32.75,-.205,-.22,-.235,-.25,-.265,-.28,-.295,-.31,-.325,-.34,-.355,-.37],[33.2,-.2,-.215,-.23,-.245,-.26,-.275,-.29,-.305,-.32,-.335,-.35,-.365],[33.65,-.185,-.2,-.215,-.23,-.245,-.26,-.275,-.29,-.305,-.32,-.335,-.35,-.365,-.38],[34.1,-.2,-.215,-.23,-.245,-.26,-.275,-.29,-.305,-.32,-.335,-.35,-.37],[34.55,-.2,-.215,-.23,-.245,-.26,-.275,-.29,-.305,-.32,-.335,-.35,-.365],[35.0,-.21,-.225,-.24,-.255,-.27,-.285,-.3,-.315,-.33,-.345,-.36,-.375],[35.45,-.2,-.215,-.23,-.245,-.26,-.275,-.29,-.305,-.32,-.335,-.35],[35.9,-.205,-.22,-.235,-.25,-.265,-.28,-.295,-.31,-.325,-.34,-.36],[36.35,-.21,-.225,-.24,-.255,-.27,-.285,-.3,-.32,-.34],[36.8,-.215,-.23,-.245,-.26,-.28,-.31,-.35]];
const cLowC=[[30.6,-.395,-.42,-.44],[31.0,-.385,-.405,-.43],[31.4,-.39,-.41,-.43,-.45],[31.8,-.385,-.4,-.415,-.435],[32.2,-.39,-.405,-.42,-.44],[32.6,-.385,-.4,-.415,-.43],[33.0,-.39,-.405,-.42],[33.4,-.385,-.4,-.415,-.43],[33.8,-.39,-.405,-.42],[34.2,-.385,-.4,-.415,-.43],[34.6,-.39,-.405,-.42],[35.0,-.385,-.4,-.415],[35.4,-.39,-.405,-.42],[35.8,-.385,-.4,-.415],[36.2,-.39,-.405,-.42],[36.6,-.385,-.4,-.415],[37.1,-.39,-.405,-.42],[37.6,-.385,-.4,-.415],[38.1,-.395,-.41],[38.6,-.39,-.405],[39.1,-.395,-.41],[39.6,-.39,-.405],[40.1,-.395]];

// ---------- rendering ----------
const FONT='"Liberation Sans", Arial, Helvetica, sans-serif';
const COL={Fe:"#98600f",C:"#0b2a92",H:"#15a315"};
const layouts=[
  {left:117.5,right:637.5,top:25,bottom:431.5,labelBase:39},
  {left:118,right:638.5,top:518.5,bottom:915,labelBase:533},
  {left:119.3,right:638,top:1007.5,bottom:1422,labelBase:1031.5}];
const legendLayout={panel:2,markX:155.5,textX:201.7,rows:[1037,1072,1110]};
const flat=cols=>cols.flatMap(c=>c.slice(1).map(q=>[c[0],q]));
const panels=[
  {fe:feA,c:cA.concat(flat(cBandA),flat(cBandA2)),h:hA.concat(flat(hBandA))},
  {fe:feB,c:cB.concat(flat(cBandB),flat(cBandB2),flat(cMassB),flat(cLowB)),h:hB.concat(flat(hBandB))},
  {fe:feC,c:cC.concat(flat(cBandC),flat(cBandC2),flat(cMassC),flat(cLowC)),h:hC.concat(flat(hBandC))}];

const svg=d3.select("#fig");
const defs=svg.append("defs");
function txt(sel){return sel.attr("font-family",FONT).attr("font-weight","bold").attr("fill","#000");}

panels.forEach((p,i)=>{
  const L=layouts[i];
  const x=d3.scaleLinear().domain([0,55]).range([L.left,L.right]);
  const y=d3.scaleLinear().domain([-0.6,0.8]).range([L.bottom,L.top]);
  defs.append("clipPath").attr("id","clip"+i).append("rect")
    .attr("x",L.left).attr("y",L.top-12).attr("width",L.right-L.left).attr("height",L.bottom-L.top+24);
  const g=svg.append("g");
  const pts=g.append("g").attr("clip-path",`url(#clip${i})`);
  pts.append("g").attr("stroke",COL.Fe).attr("stroke-width",2.5).attr("fill","none")
    .selectAll("path").data(p.fe).join("path")
    .attr("d",d=>{const cx=x(d[0]),cy=y(d[1]);return `M${cx-5},${cy}H${cx+5}M${cx},${cy-5}V${cy+5}`;});
  pts.append("g").attr("stroke",COL.C).attr("stroke-width",2.1).attr("fill","none")
    .selectAll("circle").data(p.c).join("circle")
    .attr("cx",d=>x(d[0])).attr("cy",d=>y(d[1])).attr("r",3.9);
  pts.append("g").attr("stroke",COL.H).attr("stroke-width",2.1).attr("fill","none")
    .selectAll("rect").data(p.h).join("rect")
    .attr("x",d=>x(d[0])-3.7).attr("y",d=>y(d[1])-3.7).attr("width",7.4).attr("height",7.4);

  g.append("line").attr("x1",x(interfaceZ)).attr("x2",x(interfaceZ)).attr("y1",L.top).attr("y2",L.bottom)
    .attr("stroke","#000").attr("stroke-width",2.6).attr("stroke-dasharray","8,5");

  const gx=g.append("g").attr("transform",`translate(0,${L.bottom})`)
    .call(d3.axisBottom(x).tickValues(xTicks).tickSize(-10).tickSizeOuter(0)
      .tickFormat(d=>xTickLabels[xTicks.indexOf(d)]));
  gx.select(".domain").remove();
  gx.attr("font-family",FONT).attr("font-size",26).attr("font-weight","bold");
  gx.selectAll(".tick line").attr("stroke","#000").attr("stroke-width",2);
  gx.selectAll(".tick text").attr("y",38.5).attr("dy",null).attr("fill","#000").attr("transform","scale(1.2,1)");

  const gy=g.append("g").attr("transform",`translate(${L.left},0)`)
    .call(d3.axisLeft(y).tickValues(yTicks).tickSize(-10).tickSizeOuter(0)
      .tickFormat(d=>yTickLabels[yTicks.indexOf(d)]));
  gy.select(".domain").remove();
  gy.attr("font-family",FONT).attr("font-size",26).attr("font-weight","bold");
  gy.selectAll(".tick line").attr("stroke","#000").attr("stroke-width",2);
  gy.selectAll(".tick text").attr("x",-7.5/1.2).attr("dy","0.42em").attr("fill","#000").attr("transform","scale(1.2,1)");

  g.append("rect").attr("x",L.left).attr("y",L.top).attr("width",L.right-L.left).attr("height",L.bottom-L.top)
    .attr("fill","none").attr("stroke","#000").attr("stroke-width",2.2);

  txt(g.append("text")).attr("font-size",27).attr("text-anchor","middle")
    .attr("transform",`translate(${(L.left+L.right)/2+3},${L.bottom+70}) scale(1.24,1)`).text(xTitle);
  txt(g.append("text")).attr("font-size",27).attr("text-anchor","middle")
    .attr("transform",`translate(52.5,${(L.top+L.bottom)/2}) rotate(-90) scale(1.24,1)`).text(yTitle);
  txt(g.append("text")).attr("font-size",26).attr("text-anchor","start")
    .attr("transform",`translate(12,${L.labelBase}) scale(1.2,1)`).text(panelNames[i]);

  if(i===legendLayout.panel){
    const lg=g.append("g");
    const mx=legendLayout.markX, r=legendLayout.rows;
    lg.append("path").attr("d",`M${mx-10.5},${r[0]}H${mx+10.5}M${mx},${r[0]-10.5}V${r[0]+10.5}`)
      .attr("stroke",COL.Fe).attr("stroke-width",2.4).attr("fill","none");
    lg.append("circle").attr("cx",mx).attr("cy",r[1]).attr("r",8.4)
      .attr("stroke",COL.C).attr("stroke-width",2.3).attr("fill","none");
    lg.append("rect").attr("x",mx-8.3).attr("y",r[2]-8.3).attr("width",16.6).attr("height",16.6)
      .attr("stroke",COL.H).attr("stroke-width",2.3).attr("fill","none");
    seriesNames.forEach((n,k)=>{
      txt(lg.append("text")).attr("font-size",27)
        .attr("transform",`translate(${legendLayout.textX},${r[k]+9.5}) scale(1.2,1)`).text(n);
    });
  }
});
</script>
</body></html>
